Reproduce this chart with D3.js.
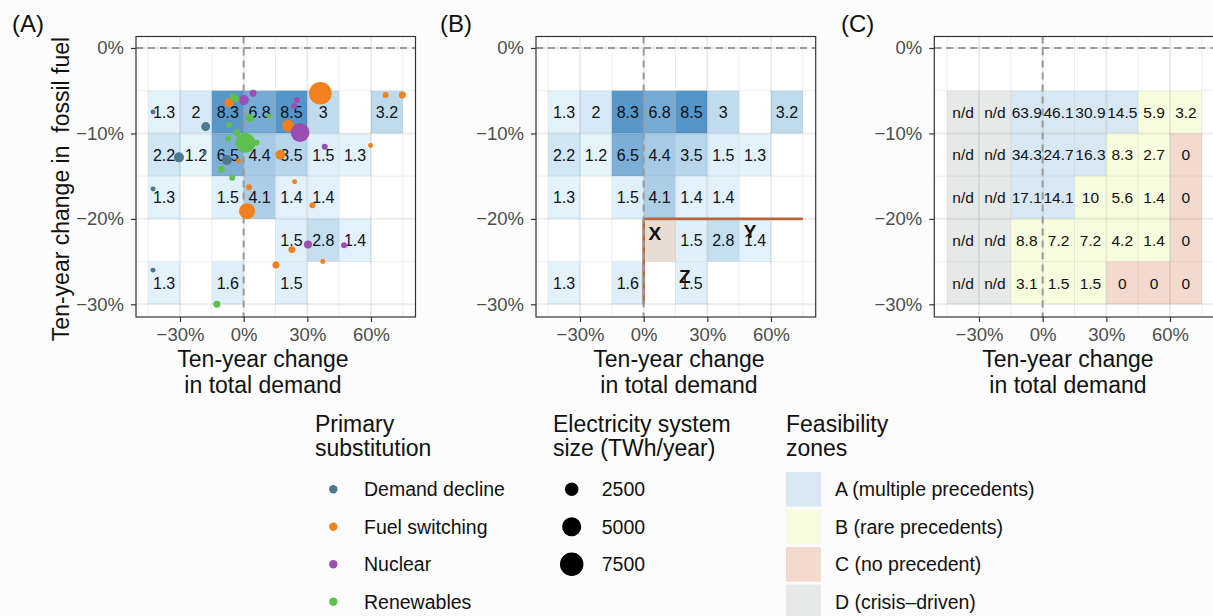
<!DOCTYPE html>
<html><head><meta charset="utf-8">
<script src="https://cdn.jsdelivr.net/npm/d3@7"></script>
<style>
body{margin:0;background:#fcfcfc;}
svg{display:block;font-family:"Liberation Sans",Arial,Helvetica,sans-serif;}
</style>
</head><body>
<svg id="chart" width="1213" height="616"></svg>
<script>
// ---------------- DATA ----------------
const xCenters = [-37.5, -22.5, -7.5, 7.5, 22.5, 37.5, 52.5, 67.5];
const yCenters = [-7.5, -12.5, -17.5, -22.5, -27.5];
// Panel A/B: precedent heatmap
const precedentRows = [
  [1.3, 2, 8.3, 6.8, 8.5, 3, null, 3.2],
  [2.2, 1.2, 6.5, 4.4, 3.5, 1.5, 1.3, null],
  [1.3, null, 1.5, 4.1, 1.4, 1.4, null, null],
  [null, null, null, null, 1.5, 2.8, 1.4, null],
  [1.3, null, 1.6, null, 1.5, null, null, null]
];
// Panel C: feasibility values and zones
const feasibilityRows = [
  ["n/d", "n/d", "63.9", "46.1", "30.9", "14.5", "5.9", "3.2"],
  ["n/d", "n/d", "34.3", "24.7", "16.3", "8.3", "2.7", "0"],
  ["n/d", "n/d", "17.1", "14.1", "10", "5.6", "1.4", "0"],
  ["n/d", "n/d", "8.8", "7.2", "7.2", "4.2", "1.4", "0"],
  ["n/d", "n/d", "3.1", "1.5", "1.5", "0", "0", "0"]
];
const zoneRows = [
  ["D", "D", "A", "A", "A", "A", "B", "B"],
  ["D", "D", "A", "A", "A", "B", "B", "C"],
  ["D", "D", "A", "A", "B", "B", "B", "C"],
  ["D", "D", "B", "B", "B", "B", "B", "C"],
  ["D", "D", "B", "B", "B", "C", "C", "C"]
];
// Panel A points: [demand change %, fossil change %, TWh/year]
const demandDecline = [
  [-42.7, -7.5, 340], [-17.9, -9.2, 1110], [-30.5, -12.8, 1370], [-18.5, -12.3, 220],
  [-7.9, -13.1, 1370], [-42.7, -16.5, 340], [-42.7, -26.0, 340]
];
const fuelSwitching = [
  [-6.9, -6.4, 1110], [-2.4, -13.2, 340], [2.5, -16.3, 490], [17.3, -12.5, 1370],
  [24.0, -15.65, 340], [20.9, -9.1, 1970], [36.1, -5.3, 7000], [59.8, -11.4, 340],
  [66.9, -5.5, 490], [74.8, -5.5, 670], [1.6, -19.1, 3500], [32.4, -18.4, 490],
  [22.7, -23.6, 670], [37.3, -25.0, 340], [15.2, -25.4, 670]
];
const nuclear = [
  [0.1, -6.1, 1370], [4.4, -5.3, 670], [25.1, -6.1, 490], [23.8, -6.8, 490],
  [26.6, -9.9, 4740], [38.2, -11.55, 490], [30.3, -23.0, 880], [47.3, -23.1, 490]
];
const renewables = [
  [-5.0, -5.7, 670], [-3.3, -6.0, 490], [2.8, -8.2, 880], [11.9, -8.0, 340],
  [-6.9, -9.0, 490], [-3.2, -9.9, 670], [-7.3, -10.6, 490], [0.8, -11.1, 5480],
  [6.1, -11.1, 490], [-10.5, -14.2, 670], [-5.4, -15.2, 490], [-12.6, -30.0, 670]
];
const substitutionLabels = ["Demand decline", "Fuel switching", "Nuclear", "Renewables"];
const substitutionColors = ["#4d7892", "#f2801f", "#9b4db3", "#5ec04c"];
const sizeBreaks = [2500, 5000, 7500];
const zoneKeys = ["A", "B", "C", "D"];
const zoneLabels = ["A (multiple precedents)", "B (rare precedents)", "C (no precedent)", "D (crisis\u2013driven)"];
const zoneColors = ["#d7e8f2", "#f6fcdd", "#f4d9ce", "#e7e8e8"];
const xTicks = [-30, 0, 30, 60];
const yTicks = [0, -10, -20, -30];
const xMinor = [-45, -15, 15, 45, 75];
const yMinor = [-5, -15, -25];
const annotations = [{t: "X", x: 5.3, y: -21.7}, {t: "Y", x: 50.1, y: -21.4}, {t: "Z", x: 19.4, y: -26.7}];

// ---------------- LAYOUT ----------------
const svg = d3.select("#chart");
svg.append("rect").attr("width", 1213).attr("height", 616).attr("fill", "#fcfcfc");
const panelTop = 36.5, panelBottom = 317;
const panels = [
  {id: "A", off: 0, left: 136, right: 415.5, label: "(A)", lx: 12, titleX: 263},
  {id: "B", off: 400, left: 536, right: 815.7, label: "(B)", lx: 440, titleX: 679},
  {id: "C", off: 799, left: 934.3, right: 1214, label: "(C)", lx: 841, titleX: 1068}
];
const fmtPct = d => (d < 0 ? "\u2212" + Math.abs(d) : d) + "%";
const heat = d3.scaleLinear().domain([1.2, 8.5]).range(["#e6f4fc", "#5494c7"]);
const rScale = d3.scaleSqrt().domain([0, 7500]).range([0, 11.7]);
const zoneColor = d3.scaleOrdinal().domain(zoneKeys).range(zoneColors);
const catColor = d3.scaleOrdinal().domain(substitutionLabels).range(substitutionColors);

panels.forEach(p => {
  const x = d3.scaleLinear().domain([-30, 60]).range([180 + p.off, 371 + p.off]);
  const y = d3.scaleLinear().domain([0, -30]).range([48, 304.3]);
  const g = svg.append("g");
  const clipId = "clip" + p.id;
  svg.append("clipPath").attr("id", clipId).append("rect")
    .attr("x", p.left).attr("y", panelTop).attr("width", p.right - p.left).attr("height", panelBottom - panelTop);
  g.append("rect").attr("x", p.left).attr("y", panelTop).attr("width", p.right - p.left)
    .attr("height", panelBottom - panelTop).attr("fill", "#ffffff");
  const inner = g.append("g").attr("clip-path", `url(#${clipId})`);
  const cw = x(15) - x(0), ch = y(-5) - y(0);

  // tiles
  const cells = [];
  yCenters.forEach((yc, i) => xCenters.forEach((xc, j) => {
    cells.push({xc, yc, v: precedentRows[i][j], f: feasibilityRows[i][j], z: zoneRows[i][j]});
  }));
  if (p.id === "C") {
    inner.selectAll("rect.tile").data(cells).join("rect").attr("class", "tile")
      .attr("x", d => x(d.xc - 7.5)).attr("y", d => y(d.yc + 2.5))
      .attr("width", cw).attr("height", ch).attr("fill", d => zoneColor(d.z));
  } else {
    inner.selectAll("rect.tile").data(cells.filter(d => d.v !== null)).join("rect").attr("class", "tile")
      .attr("x", d => x(d.xc - 7.5)).attr("y", d => y(d.yc + 2.5))
      .attr("width", cw).attr("height", ch).attr("fill", d => heat(d.v));
    if (p.id === "B") {
      inner.append("rect").attr("x", x(0)).attr("y", y(-20)).attr("width", cw).attr("height", ch)
        .attr("fill", "#e9ddd3");
    }
  }
  // gridlines (drawn semi-transparent)
  inner.selectAll("line.gxm").data(xMinor).join("line")
    .attr("x1", d => x(d)).attr("x2", d => x(d)).attr("y1", panelTop).attr("y2", panelBottom)
    .attr("stroke", "rgba(0,0,0,0.07)").attr("stroke-width", 1);
  inner.selectAll("line.gym").data(yMinor).join("line")
    .attr("y1", d => y(d)).attr("y2", d => y(d)).attr("x1", p.left).attr("x2", p.right)
    .attr("stroke", "rgba(0,0,0,0.07)").attr("stroke-width", 1);
  inner.selectAll("line.gx").data(xTicks).join("line")
    .attr("x1", d => x(d)).attr("x2", d => x(d)).attr("y1", panelTop).attr("y2", panelBottom)
    .attr("stroke", "rgba(0,0,0,0.075)").attr("stroke-width", 2);
  inner.selectAll("line.gy").data(yTicks).join("line")
    .attr("y1", d => y(d)).attr("y2", d => y(d)).attr("x1", p.left).attr("x2", p.right)
    .attr("stroke", "rgba(0,0,0,0.075)").attr("stroke-width", 2);

  // annotation lines in B
  if (p.id === "B") {
    inner.append("line").attr("x1", x(0)).attr("x2", x(75)).attr("y1", y(-20)).attr("y2", y(-20))
      .attr("stroke", "#b8673d").attr("stroke-width", 2.6);
    inner.append("line").attr("x1", x(0)).attr("x2", x(0)).attr("y1", y(-20)).attr("y2", y(-30))
      .attr("stroke", "#b8673d").attr("stroke-width", 2.6);
  }

  // dashed reference lines
  inner.append("line").attr("x1", p.left).attr("x2", p.right).attr("y1", y(0)).attr("y2", y(0))
    .attr("stroke", "#9a9a9a").attr("stroke-width", 2).attr("stroke-dasharray", "7,5");
  inner.append("line").attr("x1", x(0)).attr("x2", x(0)).attr("y1", panelTop).attr("y2", panelBottom)
    .attr("stroke", "#9a9a9a").attr("stroke-width", 2).attr("stroke-dasharray", "7,5");

  // cell labels
  const labCells = p.id === "C" ? cells : cells.filter(d => d.v !== null);
  inner.selectAll("text.cell").data(labCells).join("text").attr("class", "cell")
    .attr("x", d => x(d.xc)).attr("y", d => y(d.yc)).attr("dy", "0.36em")
    .attr("text-anchor", "middle").attr("font-size", p.id === "C" ? "15.5px" : "16px").attr("fill", "#111")
    .text(d => p.id === "C" ? d.f : d.v);

  if (p.id === "B") {
    inner.selectAll("text.ann").data(annotations).join("text").attr("class", "ann")
      .attr("x", d => x(d.x)).attr("y", d => y(d.y)).attr("dy", "0.36em")
      .attr("text-anchor", "middle").attr("font-size", "19px").attr("font-weight", "bold").attr("fill", "#111")
      .text(d => d.t);
  }

  // points in A
  if (p.id === "A") {
    const groups = [demandDecline, fuelSwitching, nuclear, renewables];
    groups.forEach((arr, k) => {
      inner.append("g").selectAll("circle").data(arr).join("circle")
        .attr("cx", d => x(d[0])).attr("cy", d => y(d[1])).attr("r", d => rScale(d[2]))
        .attr("fill", catColor(substitutionLabels[k]));
    });
  }

  // border
  g.append("rect").attr("x", p.left).attr("y", panelTop).attr("width", p.right - p.left)
    .attr("height", panelBottom - panelTop).attr("fill", "none").attr("stroke", "#333").attr("stroke-width", 1.2);

  // axes
  const ax = g.append("g").attr("transform", `translate(0,${panelBottom})`)
    .call(d3.axisBottom(x).tickValues(xTicks).tickSize(5).tickPadding(6).tickFormat(fmtPct));
  const ay = g.append("g").attr("transform", `translate(${p.left},0)`)
    .call(d3.axisLeft(y).tickValues(yTicks).tickSize(5).tickPadding(7).tickFormat(fmtPct));
  [ax, ay].forEach(a => {
    a.select(".domain").remove();
    a.selectAll(".tick line").attr("stroke", "#333").attr("stroke-width", 1.2);
    a.selectAll(".tick text").attr("fill", "#4d4d4d").attr("font-size", "18.5px")
      .attr("font-family", '"Liberation Sans",Arial,Helvetica,sans-serif');
  });

  // axis titles
  g.append("text").attr("x", p.titleX).attr("y", 366.5).attr("text-anchor", "middle")
    .attr("font-size", "23px").attr("fill", "#111").text("Ten-year change");
  g.append("text").attr("x", p.titleX).attr("y", 393.3).attr("text-anchor", "middle")
    .attr("font-size", "23px").attr("fill", "#111").text("in total demand");
  // panel label
  g.append("text").attr("x", p.lx).attr("y", 32).attr("font-size", "24px").attr("fill", "#111").text(p.label);
});

// y axis title
svg.append("text").attr("transform", "translate(69,189) rotate(-90)").attr("text-anchor", "middle")
  .attr("font-size", "23px").attr("fill", "#111").style("white-space", "pre")
  .text("Ten-year change in  fossil fuel");

// ---------------- LEGENDS ----------------
const keyY = [489.3, 526.8, 564.3, 601.8];
function legendTitle(x0, lines) {
  lines.forEach((t, i) => svg.append("text").attr("x", x0).attr("y", 431.7 + i * 23.8)
    .attr("font-size", "23px").attr("fill", "#111").text(t));
}
legendTitle(315, ["Primary", "substitution"]);
legendTitle(553, ["Electricity system", "size (TWh/year)"]);
legendTitle(786, ["Feasibility", "zones"]);

const lg1 = svg.append("g");
lg1.selectAll("circle").data(substitutionLabels).join("circle")
  .attr("cx", 333.3).attr("cy", (d, i) => keyY[i]).attr("r", 4.2).attr("fill", d => catColor(d));
lg1.selectAll("text").data(substitutionLabels).join("text")
  .attr("x", 364).attr("y", (d, i) => keyY[i]).attr("dy", "0.36em")
  .attr("font-size", "19.5px").attr("fill", "#111").text(d => d);

const lg2 = svg.append("g");
lg2.selectAll("circle").data(sizeBreaks).join("circle")
  .attr("cx", 571.7).attr("cy", (d, i) => keyY[i]).attr("r", d => rScale(d)).attr("fill", "#000");
lg2.selectAll("text").data(sizeBreaks).join("text")
  .attr("x", 601.7).attr("y", (d, i) => keyY[i]).attr("dy", "0.36em")
  .attr("font-size", "19.5px").attr("fill", "#111").text(d => d);

const lg3 = svg.append("g");
lg3.selectAll("rect").data(zoneKeys).join("rect")
  .attr("x", 786).attr("y", (d, i) => keyY[i] - 17.3).attr("width", 35).attr("height", 34.6)
  .attr("fill", d => zoneColor(d));
lg3.selectAll("text").data(zoneLabels).join("text")
  .attr("x", 835).attr("y", (d, i) => keyY[i]).attr("dy", "0.36em")
  .attr("font-size", "19.5px").attr("fill", "#111").text(d => d);
</script>
</body></html>
